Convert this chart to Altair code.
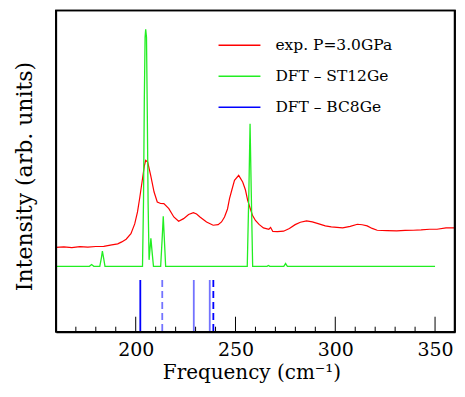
import altair as alt
import pandas as pd

# ---- data (intensity in arbitrary units) ----
series_names = ["exp. P=3.0GPa", "DFT – ST12Ge", "DFT – BC8Ge"]
series_colors = ["#ff0000", "#22ee22", "#0000ff"]

exp_freq = [160, 164, 168, 172, 176, 180, 184, 188, 191, 193, 195.2, 197.6, 199.5,
            200.9, 202, 203.4, 204.3, 205, 206, 207.5, 209.2, 210.8, 212.5, 214.1,
            216.6, 219.1, 221.5, 224, 226.5, 228.9, 230.5, 232.2, 235.5, 238.8, 241.3,
            243, 244.5, 246, 247, 248.3, 249.5, 251.6, 253.6, 255, 256.1, 257.3, 258.5,
            260, 261.8, 264, 266.7, 267.6, 268.7, 271, 274.1, 277, 279.9, 282.5, 285.6,
            288.5, 291.4, 295, 298, 303.7, 307.5, 311.1, 313.5, 316, 318.5, 321, 326,
            330.8, 335, 339.1, 343, 347.3, 351, 355.5, 359.6]
exp_int = [84.5, 85, 84.3, 85.2, 84.7, 85.4, 85.5, 87, 88, 90, 92.7, 98.3, 108,
           120, 134, 153.3, 166, 171.7, 170, 156.7, 140, 130, 128.5, 128.3,
           123.3, 115, 110.7, 113.3, 117.5, 119.3, 118, 115, 110, 106.7, 107.3,
           110, 115, 123, 133.3, 143, 151.7, 156.7, 150, 142, 131.7, 124, 116.7,
           111.5, 107.5, 104, 102.7, 104.5, 100.5, 100.2, 100.7, 103.5, 107.3, 109.7, 111,
           110, 108.3, 106, 105, 104, 105.5, 107.7, 107.2, 106, 103.5, 101.7, 101.3,
           101, 101.5, 101.7, 102, 102.7, 102.7, 104, 104]

st12_freq = [160, 176.8, 177.9, 179, 182.0, 182.8, 183.3, 183.9, 184.6,
             203.4, 203.9, 204.3, 204.7, 205.0, 205.4, 205.8, 206.2, 206.7, 207.6, 208.3, 208.9,
             212.5, 213.3, 213.8, 214.3, 215.0,
             255.9, 256.7, 257.3, 257.9, 258.6,
             265.8, 266.5, 267.2, 274.2, 275.1, 276, 350]
st12_int = [65.5, 65.5, 67.3, 65.5, 65.5, 74, 80.7, 74, 65.5,
            65.5, 130, 230, 295, 303, 295, 220, 130, 72, 93.5, 78, 65.5,
            65.5, 95, 115.7, 95, 65.5,
            65.5, 140, 208.3, 140, 65.5,
            65.5, 66.4, 65.5, 65.5, 68.3, 65.5, 65.5]

bc8_freq = [202.3, 213.3, 229.1, 237.1, 238.9]
bc8_top = [51.7, 51.7, 51.7, 51.7, 51.7]

major_ticks = [200, 250, 300, 350]
minor_ticks = [170, 180, 190, 210, 220, 230, 240, 260, 270, 280, 290, 310, 320, 330, 340]

x_limits = [160, 360]
y_limits = [0, 322]

# ---- tables ----
exp_df = pd.DataFrame({"freq": exp_freq, "inten": exp_int, "series": series_names[0]})
st_df = pd.DataFrame({"freq": st12_freq, "inten": st12_int, "series": series_names[1]})
bc_df = pd.DataFrame({"freq": bc8_freq, "inten": bc8_top, "base": 0, "series": series_names[2]})
maj_df = pd.DataFrame({"freq": major_ticks})
min_df = pd.DataFrame({"freq": minor_ticks})
edge_df = pd.DataFrame({"edge": ["frame"]})

FONT = "DejaVu Serif"
W, H = 400, 322

xscale = alt.Scale(domain=x_limits, nice=False, zero=False)
yscale = alt.Scale(domain=y_limits, nice=False, zero=False)

color = alt.Color(
    "series:N",
    scale=alt.Scale(domain=series_names, range=series_colors),
    legend=alt.Legend(
        title=None, orient="none", legendX=162, legendY=13,
        symbolType="stroke", symbolSize=1764, symbolStrokeWidth=1.5,
        labelFont=FONT, labelFontSize=15.5, labelColor="black",
        labelOffset=14, rowPadding=-17.8, padding=0,
    ),
)

xaxis = alt.Axis(
    orient="bottom", values=major_ticks, grid=False, ticks=False, tickSize=0,
    domain=True, domainColor="black", domainWidth=2,
    labelFont=FONT, labelFontSize=19, labelColor="black", labelPadding=9,
    title="Frequency (cm⁻¹)", titleFont=FONT, titleFontSize=20,
    titleFontWeight="normal", titleColor="black",
    titleX=196, titleY=47, titleAlign="center", titleBaseline="alphabetic",
)
yaxis = alt.Axis(
    orient="left", grid=False, ticks=False, labels=False, domain=False,
    title="Intensity (arb. units)", titleFont=FONT, titleFontSize=22,
    titleFontWeight="normal", titleColor="black",
    titleX=-24, titleY=166, titleAngle=-90, titleAlign="center",
    titleBaseline="alphabetic",
)

# plot frame drawn through the scales at the axis limits
frame = alt.Chart(edge_df).mark_rect(filled=False, stroke="black", strokeWidth=1.5).encode(
    x=alt.datum(x_limits[0], scale=xscale), x2=alt.datum(x_limits[1]),
    y=alt.datum(y_limits[0], scale=yscale), y2=alt.datum(y_limits[1]),
)
left_edge = alt.Chart(edge_df).mark_rule(color="black", strokeWidth=1.5).encode(
    x=alt.value(0.5), y=alt.value(0), y2=alt.value(H)
)
right_edge = alt.Chart(edge_df).mark_rule(color="black", strokeWidth=1.5).encode(
    x=alt.value(W - 0.5), y=alt.value(0), y2=alt.value(H)
)

maj_rules = alt.Chart(maj_df).mark_rule(color="black", strokeWidth=1).encode(
    x=alt.X("freq:Q", scale=xscale, axis=xaxis), y=alt.value(H), y2=alt.value(H - 15)
)
min_rules = alt.Chart(min_df).mark_rule(color="black", strokeWidth=1).encode(
    x=alt.X("freq:Q", scale=xscale), y=alt.value(H), y2=alt.value(H - 5)
)
exp_line = alt.Chart(exp_df).mark_line(strokeWidth=1.2, clip=True).encode(
    x=alt.X("freq:Q", scale=xscale),
    y=alt.Y("inten:Q", scale=yscale, axis=yaxis),
    color=color,
    order="freq:Q",
)
st_line = alt.Chart(st_df).mark_line(strokeWidth=1.3, clip=True).encode(
    x=alt.X("freq:Q", scale=xscale),
    y=alt.Y("inten:Q", scale=yscale),
    color=color,
    order="freq:Q",
)
bc_rules = alt.Chart(bc_df).mark_rule(strokeWidth=1.8).encode(
    x=alt.X("freq:Q", scale=xscale),
    y=alt.Y("inten:Q", scale=yscale),
    y2="base:Q",
    color=color,
    opacity=alt.condition(alt.FieldOneOfPredicate(field="freq", oneOf=[213.3, 229.1, 237.1]),
                          alt.value(0.55), alt.value(1.0)),
    strokeDash=alt.condition(alt.FieldOneOfPredicate(field="freq", oneOf=[213.3, 238.9]),
                             alt.value([7, 4]), alt.value([1, 0])),
)

chart = alt.layer(maj_rules, min_rules, exp_line, st_line, bc_rules,
                  frame, left_edge, right_edge).properties(
    width=W, height=H,
    background="white",
    autosize=alt.AutoSizeParams(type="none"),
    padding={"left": 48, "top": 2, "right": 2, "bottom": 52},
).configure_view(stroke="black", strokeWidth=1.5)

chart.save("out.html", embed_options={"renderer": "svg", "actions": False})
